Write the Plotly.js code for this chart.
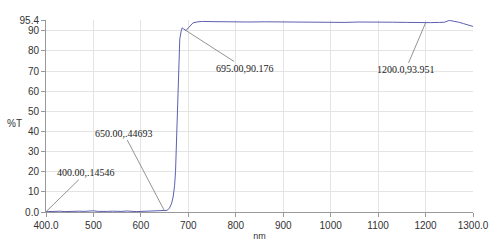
<!DOCTYPE html>
<html>
<head>
<meta charset="utf-8">
<script src="https://cdn.plot.ly/plotly-3.0.1.min.js"></script>
<style>html,body{margin:0;padding:0;background:#fff;}#chart{width:500px;height:252px;}</style>
</head>
<body>
<div id="chart"></div>
<script>
// Wavelength (nm)
const wavelength = [400,410,420,430,440,450,460,470,480,490,500,510,520,530,540,550,560,570,580,590,600,610,620,630,640,650,655,660,665,668,671,673,675,677,679,682,685,687,690,695,700,705,710,720,730,750,770,800,830,860,900,930,960,1000,1030,1060,1100,1130,1160,1200,1210,1230,1240,1250,1260,1270,1280,1290,1300];
// Transmittance (%T)
const transmittance = [0.15,0.3,0.6,0.4,0.2,0.3,0.5,0.4,0.3,0.5,0.6,0.3,0.2,0.3,0.4,0.2,0.3,0.5,0.3,0.2,0.3,0.4,0.3,0.3,0.4,0.45,0.8,1.8,4.5,7.5,13,20,35,55,75,86,90,91.5,91,90.2,91.5,93,94,94.5,94.7,94.6,94.5,94.6,94.4,94.5,94.4,94.3,94.5,94.4,94.2,94.4,94.5,94.3,94.2,93.95,94.1,94.2,94.3,95.2,94.9,94.3,93.6,92.9,92.2];

const xTickVals = [400,500,600,700,800,900,1000,1100,1200,1300];
const xTickText = ["400.0","500","600","700","800","900","1000","1100","1200","1300.0"];
const yTickVals = [0,10,20,30,40,50,60,70,80,90,95.4];
const yTickText = ["0.0","10","20","30","40","50","60","70","80","90","95.4"];

// Marked points
const markX = [695, 1200, 650, 400];
const markY = [90.176, 93.951, 0.44693, 0.14546];
const markText = ["695.00,90.176", "1200.0,93.951", "650.00,.44693", "400.00,.14546"];
const markAx = [59, -20, -41, 40];
const markAy = [38, 47, -78, -39];

const annotations = markX.map((x, i) => ({
  x: x, y: markY[i], xref: 'x', yref: 'y',
  text: markText[i], showarrow: true, arrowhead: 0, arrowwidth: 0.8,
  arrowcolor: '#777', ax: markAx[i], ay: markAy[i],
  font: {family: 'Liberation Serif, serif', size: 10, color: '#222'}
}));
annotations.push({
  xref: 'paper', yref: 'paper', x: -0.073, y: 0.463, xanchor: 'center', yanchor: 'middle',
  showarrow: false,
  text: '%T', font: {family: 'Liberation Sans, Arial, sans-serif', size: 10, color: '#333'}
});

const trace = {
  x: wavelength, y: transmittance, type: 'scatter', mode: 'lines',
  line: {color: '#5c60b0', width: 1}, hoverinfo: 'skip'
};

const layout = {
  width: 500, height: 252,
  margin: {l: 46, r: 27, t: 20, b: 40},
  paper_bgcolor: '#fff', plot_bgcolor: '#fff',
  showlegend: false,
  font: {family: 'Liberation Sans, Arial, sans-serif', size: 10, color: '#333'},
  xaxis: {
    range: [400, 1300], tickmode: 'array', tickvals: xTickVals, ticktext: xTickText,
    showgrid: true, gridcolor: '#e4e4e4', gridwidth: 1, zeroline: false,
    showline: true, linecolor: '#999', linewidth: 1,
    ticks: 'outside', ticklen: 4, tickcolor: '#999',
    tickfont: {size: 10, color: '#333'},
    title: {text: 'nm', font: {size: 9, color: '#333'}, standoff: 2},
    automargin: false
  },
  yaxis: {
    range: [0, 95.4], tickmode: 'array', tickvals: yTickVals, ticktext: yTickText,
    showgrid: true, gridcolor: '#e4e4e4', gridwidth: 1, zeroline: false,
    showline: true, linecolor: '#999', linewidth: 1,
    ticks: 'outside', ticklen: 4, tickcolor: '#999',
    tickfont: {size: 10, color: '#333'},
    automargin: false
  },
  annotations: annotations
};

Plotly.newPlot('chart', [trace], layout, {staticPlot: true, displayModeBar: false});
</script>
</body>
</html>
